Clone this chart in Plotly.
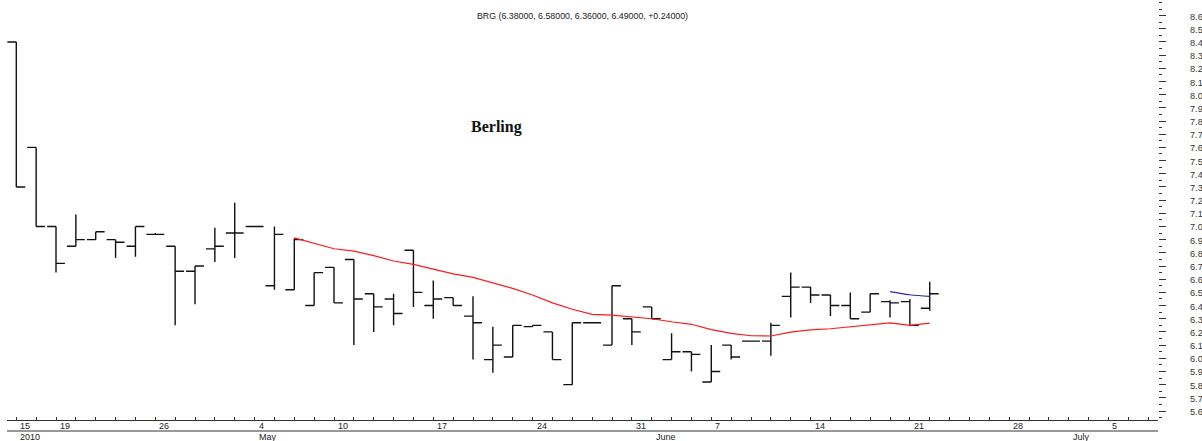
import plotly.graph_objects as go

# ---- data ----
dates = ["2010-04-15", "2010-04-16", "2010-04-19", "2010-04-20", "2010-04-21", "2010-04-22",
         "2010-04-23", "2010-04-26", "2010-04-27", "2010-04-28", "2010-04-29", "2010-04-30",
         "2010-05-04", "2010-05-05", "2010-05-06", "2010-05-07", "2010-05-10", "2010-05-11",
         "2010-05-12", "2010-05-13", "2010-05-14", "2010-05-17", "2010-05-18", "2010-05-19",
         "2010-05-20", "2010-05-21", "2010-05-24", "2010-05-25", "2010-05-26", "2010-05-27",
         "2010-05-28", "2010-05-31", "2010-06-01", "2010-06-02", "2010-06-04", "2010-06-07",
         "2010-06-08", "2010-06-09", "2010-06-10", "2010-06-11", "2010-06-14", "2010-06-15",
         "2010-06-16", "2010-06-17", "2010-06-18", "2010-06-21", "2010-06-22"]
future_dates = ["2010-06-23", "2010-06-24", "2010-06-25", "2010-06-28", "2010-06-29",
                "2010-06-30", "2010-07-01", "2010-07-02", "2010-07-05", "2010-07-06", "2010-07-07"]

opens = [8.40, 7.60, 7.00, 6.85, 6.90, 6.90, 6.85, 6.94, 6.85, 6.66, 6.83, 6.95,
         7.00, 6.55, 6.52, 6.40, 6.69, 6.75, 6.49, 6.45, 6.82, 6.40, 6.46, 6.32,
         5.99, 6.01, 6.24, 6.20, 5.80, 6.27, 6.10, 6.30, 6.39, 5.99, 6.05, 5.82,
         6.10, 6.13, 6.13, 6.47, 6.54, 6.48, 6.40, 6.35, 6.43, 6.43, 6.38]
highs = [8.40, 7.60, 7.00, 7.09, 6.96, 6.90, 7.00, 6.95, 6.85, 6.70, 6.99, 7.18,
         7.00, 7.00, 6.91, 6.65, 6.69, 6.75, 6.49, 6.49, 6.82, 6.59, 6.46, 6.47,
         6.24, 6.25, 6.25, 6.20, 6.27, 6.27, 6.55, 6.30, 6.39, 6.19, 6.05, 6.10,
         6.10, 6.13, 6.27, 6.65, 6.54, 6.48, 6.50, 6.49, 6.44, 6.45, 6.58]
lows = [7.30, 7.00, 6.65, 6.85, 6.90, 6.76, 6.77, 6.94, 6.25, 6.41, 6.73, 6.76,
        7.00, 6.52, 6.52, 6.40, 6.42, 6.10, 6.20, 6.25, 6.39, 6.30, 6.40, 5.99,
        5.89, 6.01, 6.24, 5.99, 5.80, 6.27, 6.10, 6.10, 6.30, 5.99, 5.90, 5.82,
        5.99, 6.13, 6.02, 6.31, 6.42, 6.32, 6.30, 6.35, 6.31, 6.25, 6.36]
closes = [7.30, 7.00, 6.72, 6.90, 6.96, 6.88, 7.00, 6.94, 6.66, 6.70, 6.85, 6.95,
          7.00, 6.94, 6.90, 6.65, 6.42, 6.45, 6.39, 6.34, 6.50, 6.45, 6.40, 6.27,
          6.10, 6.25, 6.25, 5.99, 6.27, 6.27, 6.55, 6.20, 6.30, 6.05, 6.03, 5.90,
          6.01, 6.13, 6.25, 6.54, 6.48, 6.40, 6.30, 6.49, 6.42, 6.25, 6.49]

# red moving average (starts at the 15th bar)
ma_red_start = 14
ma_red = [6.913, 6.870, 6.831, 6.813, 6.779, 6.738, 6.713, 6.676, 6.640, 6.614, 6.574,
          6.530, 6.480, 6.420, 6.372, 6.333, 6.327, 6.312, 6.300, 6.277, 6.258, 6.218,
          6.189, 6.171, 6.169, 6.198, 6.215, 6.224, 6.240, 6.252, 6.269, 6.249, 6.267]
# blue moving average (last three bars)
ma_blue_start = 44
ma_blue = [6.506, 6.482, 6.470]

week_label_idx = [0, 2, 7, 12, 16, 21, 26, 31, 35, 40, 45, 50, 55]
week_labels = ["15", "19", "26", "4", "10", "17", "24", "31", "7", "14", "21", "28", "5"]
month_label_idx = [0, 12, 32, 53]
month_labels = ["2010", "May", "June", "July"]

price_ticks = [5.6, 5.7, 5.8, 5.9, 6.0, 6.1, 6.2, 6.3, 6.4, 6.5, 6.6, 6.7, 6.8, 6.9, 7.0, 7.1,
               7.2, 7.3, 7.4, 7.5, 7.6, 7.7, 7.8, 7.9, 8.0, 8.1, 8.2, 8.3, 8.4, 8.5, 8.6]
price_labels = ["5.6", "5.7", "5.8", "5.9", "6.0", "6.1", "6.2", "6.3", "6.4", "6.5", "6.6",
                "6.7", "6.8", "6.9", "7.0", "7.1", "7.2", "7.3", "7.4", "7.5", "7.6", "7.7",
                "7.8", "7.9", "8.0", "8.1", "8.2", "8.3", "8.4", "8.5", "8.6"]

title_text = "BRG (6.38000, 6.58000, 6.36000, 6.49000, +0.24000)"
name_text = "Berling"

# ---- figure ----
n = len(dates)
idx = list(range(n))
all_idx = list(range(n + len(future_dates)))

X_RANGE = [-0.468, 57.496]
Y_RANGE = [5.5317, 8.7184]
AX = "#333333"

fig = go.Figure()
fig.add_trace(go.Ohlc(
    x=idx, open=opens, high=highs, low=lows, close=closes,
    text=dates, hoverinfo="text",
    increasing=dict(line=dict(color="#111111", width=1.4)),
    decreasing=dict(line=dict(color="#111111", width=1.4)),
    tickwidth=0.45, showlegend=False))
fig.add_trace(go.Scatter(
    x=idx[ma_red_start:ma_red_start + len(ma_red)], y=ma_red, mode="lines",
    line=dict(color="#ff1a1a", width=1.2), hoverinfo="skip", showlegend=False))
fig.add_trace(go.Scatter(
    x=idx[ma_blue_start:ma_blue_start + len(ma_blue)], y=ma_blue, mode="lines",
    line=dict(color="#2a2a9a", width=1.2, shape="spline"), hoverinfo="skip", showlegend=False))

common_x = dict(range=X_RANGE, showgrid=False, zeroline=False, fixedrange=True)
fig.update_layout(
    width=1202, height=441, autosize=False,
    margin=dict(l=7, r=44, t=0, b=21, pad=0),
    paper_bgcolor="white", plot_bgcolor="white",
    font=dict(family="Liberation Sans, Arial, sans-serif", size=9, color="#222222"),
    xaxis=dict(**common_x, showline=True, linecolor=AX, linewidth=1,
               tickmode="array", tickvals=all_idx, ticks="inside", ticklen=3,
               tickcolor=AX, tickwidth=1, showticklabels=False,
               rangeslider=dict(visible=False)),
    xaxis2=dict(**common_x, overlaying="x", anchor="y", side="bottom", showline=False,
                tickmode="array", tickvals=week_label_idx, ticks="outside", ticklen=11,
                tickcolor="#444444", tickwidth=1.5, showticklabels=False),
    xaxis3=dict(**common_x, overlaying="x", anchor="y", side="bottom", showline=False,
                tickmode="array", tickvals=month_label_idx, ticks="outside", ticklen=21,
                tickcolor="#444444", tickwidth=1.5, showticklabels=False),
    yaxis=dict(range=Y_RANGE, side="right", showgrid=False, zeroline=False, showline=False,
               tickmode="array", tickvals=price_ticks, ticks="outside", ticklen=7,
               tickcolor=AX, tickwidth=1, showticklabels=False,
               minor=dict(tick0=5.55, dtick=0.05, ticks="outside", ticklen=3,
                          tickcolor=AX, tickwidth=1),
               fixedrange=True),
)

# second horizontal rule of the date band
fig.add_shape(type="line", xref="paper", yref="paper", x0=0, x1=1, y0=-11 / 420, y1=-11 / 420,
              line=dict(color=AX, width=1))

# price labels, set well to the right of the tick marks, close to the page edge
for v, t in zip(price_ticks, price_labels):
    fig.add_annotation(x=1, y=v, xref="paper", yref="y", text=t, showarrow=False,
                       xanchor="left", yanchor="middle", xshift=30, yshift=-1,
                       font=dict(size=9.2, color="#333333"))

for i, t in zip(week_label_idx, week_labels):
    fig.add_annotation(x=i, y=0, xref="x", yref="paper", text=t, showarrow=False,
                       xanchor="left", yanchor="middle", xshift=2, yshift=-6,
                       font=dict(size=9, color="#222222"))
for i, t in zip(month_label_idx, month_labels):
    fig.add_annotation(x=i, y=0, xref="x", yref="paper", text=t, showarrow=False,
                       xanchor="left", yanchor="middle", xshift=2, yshift=-17,
                       font=dict(size=9, color="#222222"))

fig.add_annotation(x=0.5, y=1 - 16 / 420, xref="paper", yref="paper", text=title_text,
                   showarrow=False, xanchor="center", yanchor="middle",
                   font=dict(size=8.8, color="#222222"))
fig.add_annotation(x=(496 - 7) / 1151, y=1 - 127 / 420, xref="paper", yref="paper",
                   text="<b>" + name_text + "</b>", showarrow=False,
                   xanchor="center", yanchor="middle",
                   font=dict(family="Liberation Serif, Times New Roman, serif", size=16,
                             color="#111111"))

fig.write_html("out.html", config={"displayModeBar": False},
               post_script="document.body.style.margin='0px';document.body.style.overflow='hidden';")
